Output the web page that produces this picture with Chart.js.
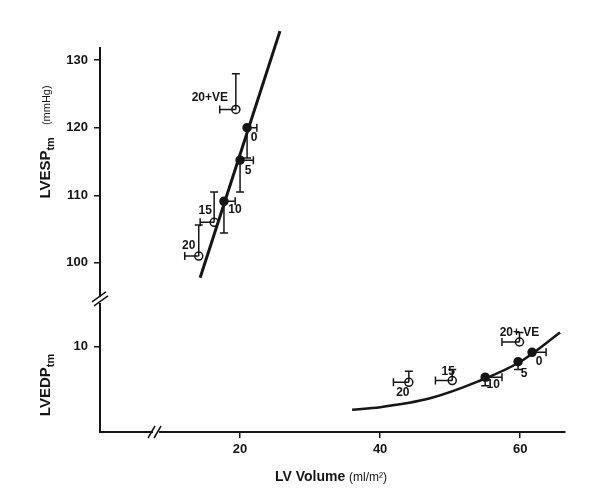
<!DOCTYPE html>
<html><head><meta charset="utf-8">
<script src="https://cdn.jsdelivr.net/npm/chart.js@4"></script>
<style>body{margin:0;background:#fff}#wrap{width:600px;height:497px}</style>
</head><body><div id="wrap"><canvas id="c"></canvas></div>
<script>
// LVESP (upper panel) — x: LV volume, y: mmHg
const espLabels = ['20+VE', '0', '5', '10', '15', '20'];
const espX      = [19.4, 21.0, 20.0, 17.7, 16.3, 14.1];
const espY      = [122.7, 120.0, 115.2, 109.1, 106.0, 101.0];
const espXErr   = [17.1, 22.4, 21.9, 19.3, 14.3, 12.1];
const espYErr   = [128.0, 115.5, 110.5, 104.4, 110.5, 105.6];
const espFilled = [false, true, true, true, false, false];
const espLineX  = [14.3, 25.7];
const espLineY  = [97.8, 134.3];

// LVEDP (lower panel)
const edpLabels = ['20+ VE', '0', '5', '10', '15', '20'];
const edpX      = [59.9, 61.7, 59.7, 55.0, 50.3, 44.1];
const edpY      = [10.5, 9.3, 8.2, 6.4, 6.0, 5.8];
const edpXErr   = [57.4, 63.7, 59.7, 57.4, 47.9, 41.9];
const edpYErr   = [11.6, 9.3, 7.3, 5.4, 7.3, 7.1];
const edpFilled = [false, true, true, true, false, false];
const edpCurveX = [36, 40, 47, 54, 60, 65.7];
const edpCurveY = [2.6, 2.9, 3.9, 5.9, 8.2, 11.6];

const xTicks = [20, 40, 60];
const espTicks = [100, 110, 120, 130];
const edpTicks = [10];

// broken axis: lower panel in its own units, upper panel stacked above the break
const BREAK = 15.4, ESP_BASE = 94.5, ESP_K = 0.788;
const vEsp = y => BREAK + (y - ESP_BASE) * ESP_K;
const vEdp = y => y;

const labOffEsp = [[-26,-12],[7,10],[8,11],[11,8],[-9,-12],[-10,-10]];
const labOffEdp = [[0,-9],[7,9],[6,12],[8,8],[-4,-9],[-6,10]];

const pts = (xs, ys, f) => xs.map((x, i) => ({x, y: f(ys[i])}));
const INK = '#151515';

const decor = {
  id: 'decor',
  afterDatasetsDraw(chart) {
    const {ctx, scales: {x, y}} = chart;
    ctx.save();
    ctx.strokeStyle = INK; ctx.fillStyle = INK; ctx.lineWidth = 1.5;
    const groups = [
      [espX, espY, espXErr, espYErr, espLabels, labOffEsp, vEsp],
      [edpX, edpY, edpXErr, edpYErr, edpLabels, labOffEdp, vEdp],
    ];
    ctx.font = 'bold 12px "Liberation Sans", Arial';
    ctx.textAlign = 'center'; ctx.textBaseline = 'middle';
    for (const [xs, ys, xe, ye, labs, offs, f] of groups) {
      xs.forEach((xv, i) => {
        const px = x.getPixelForValue(xv), py = y.getPixelForValue(f(ys[i]));
        const ex = x.getPixelForValue(xe[i]), ey = y.getPixelForValue(f(ye[i]));
        ctx.beginPath();
        if (Math.abs(ex - px) > 1) { ctx.moveTo(px, py); ctx.lineTo(ex, py); ctx.moveTo(ex, py - 4); ctx.lineTo(ex, py + 4); }
        if (Math.abs(ey - py) > 1) { ctx.moveTo(px, py); ctx.lineTo(px, ey); ctx.moveTo(px - 4, ey); ctx.lineTo(px + 4, ey); }
        ctx.stroke();
        ctx.fillText(labs[i], px + offs[i][0], py + offs[i][1]);
      });
    }
    // break marks
    const yb = y.getPixelForValue(BREAK), xl = x.left;
    ctx.fillStyle = '#fff';
    ctx.fillRect(xl - 3, yb - 3, 6, 6);
    ctx.beginPath();
    ctx.moveTo(xl - 8, yb + 2); ctx.lineTo(xl + 6, yb - 8);
    ctx.moveTo(xl - 6, yb + 6); ctx.lineTo(xl + 8, yb - 4);
    ctx.stroke();
    const xb = x.getPixelForValue(8), yl = y.bottom;
    ctx.fillRect(xb - 3, yl - 3, 6, 6);
    ctx.beginPath();
    ctx.moveTo(xb - 8, yl + 6); ctx.lineTo(xb - 1, yl - 6);
    ctx.moveTo(xb - 2, yl + 6); ctx.lineTo(xb + 5, yl - 6);
    ctx.stroke();
    // axis titles
    ctx.fillStyle = INK; ctx.textBaseline = 'alphabetic'; ctx.textAlign = 'left';
    const rot = (cx, cy, parts) => {
      ctx.save(); ctx.translate(cx, cy); ctx.rotate(-Math.PI / 2);
      let w = 0;
      for (const p of parts) { ctx.font = p.f; w += ctx.measureText(p.t).width + (p.gap || 0); }
      let px = -w / 2;
      for (const p of parts) { ctx.font = p.f; ctx.fillText(p.t, px, p.dy || 0); px += ctx.measureText(p.t).width + (p.gap || 0); }
      ctx.restore();
    };
    rot(50, 142, [
      {t: 'LVESP', f: 'bold 15px "Liberation Sans", Arial'},
      {t: 'tm', f: 'bold 11px "Liberation Sans", Arial', dy: 4, gap: 12},
      {t: '(mmHg)', f: '11px "Liberation Sans", Arial'},
    ]);
    rot(50, 385, [
      {t: 'LVEDP', f: 'bold 15px "Liberation Sans", Arial'},
      {t: 'tm', f: 'bold 11px "Liberation Sans", Arial', dy: 4},
    ]);
    ctx.textAlign = 'left';
    ctx.font = 'bold 14px "Liberation Sans", Arial';
    const a = 'LV Volume ';
    ctx.font = 'bold 14px "Liberation Sans", Arial';
    const wa = ctx.measureText(a).width;
    ctx.font = '12px "Liberation Sans", Arial';
    const wb = ctx.measureText('(ml/m²)').width;
    const sx = 331 - (wa + wb) / 2;
    ctx.font = 'bold 14px "Liberation Sans", Arial';
    ctx.fillText(a, sx, 481);
    ctx.font = '12px "Liberation Sans", Arial';
    ctx.fillText('(ml/m²)', sx + wa, 481);
    ctx.restore();
  }
};

new Chart(document.getElementById('c'), {
  type: 'scatter',
  data: {
    datasets: [
      { data: pts(espLineX, espLineY, vEsp), showLine: true, borderColor: INK, borderWidth: 3, pointRadius: 0, clip: false },
      { data: pts(edpCurveX, edpCurveY, vEdp), showLine: true, borderColor: INK, borderWidth: 2.5, pointRadius: 0, cubicInterpolationMode: 'monotone' },
      { data: pts(espX, espY, vEsp), pointRadius: 4, borderColor: INK, borderWidth: 1.5,
        pointBackgroundColor: espFilled.map(f => f ? INK : '#fff') },
      { data: pts(edpX, edpY, vEdp), pointRadius: 4, borderColor: INK, borderWidth: 1.5,
        pointBackgroundColor: edpFilled.map(f => f ? INK : '#fff') },
    ]
  },
  options: {
    responsive: true, maintainAspectRatio: false, animation: false,
    layout: { padding: { top: 48, right: 35, left: 0, bottom: 0 } },
    plugins: { legend: { display: false }, tooltip: { enabled: false } },
    scales: {
      x: {
        type: 'linear', min: 0, max: 66.4,
        afterBuildTicks: s => { s.ticks = xTicks.map(v => ({value: v})); },
        afterFit: s => { s.height = 65; },
        grid: { drawOnChartArea: false, tickLength: 6, color: INK, lineWidth: 1.5 },
        border: { color: INK, width: 2 },
        ticks: { color: INK, font: { size: 13, weight: 'bold', family: '"Liberation Sans", Arial' }, padding: 4 },
      },
      y: {
        type: 'linear', min: 0, max: vEsp(131.8),
        afterBuildTicks: s => {
          s.ticks = edpTicks.map(v => ({value: vEdp(v), label: String(v)}))
            .concat(espTicks.map(v => ({value: vEsp(v), label: String(v)})));
        },
        afterFit: s => { s.width = 100; },
        grid: { drawOnChartArea: false, tickLength: 6, color: INK, lineWidth: 1.5 },
        border: { color: INK, width: 2 },
        ticks: { color: INK, font: { size: 13, weight: 'bold', family: '"Liberation Sans", Arial' }, padding: 6,
          callback: function(v, i, t) { return t[i].label; } },
      }
    }
  },
  plugins: [decor]
});
</script></body></html>
